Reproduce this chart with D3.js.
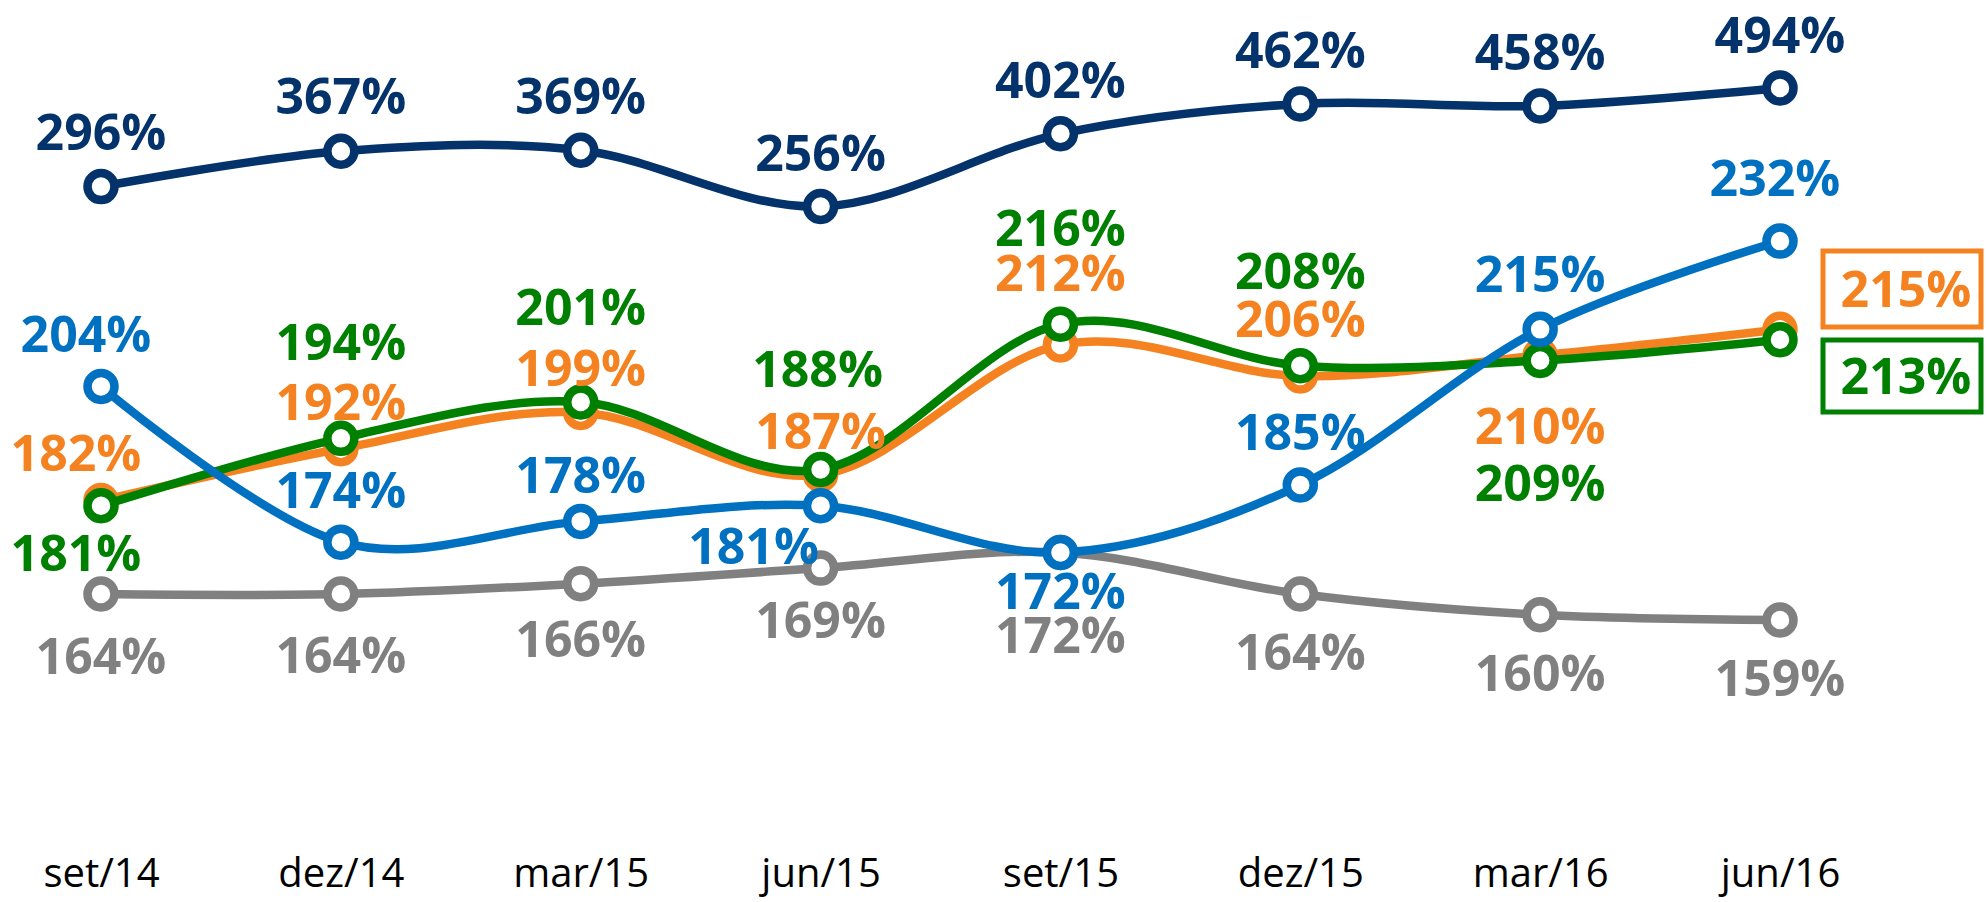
<!DOCTYPE html>
<html><head><meta charset="utf-8">
<script src="https://cdn.jsdelivr.net/npm/d3@7/dist/d3.min.js"></script>
<style>
html,body{margin:0;padding:0;background:#fff;}
svg{display:block;}
text{font-family:"Open Sans","Noto Sans",sans-serif;}
</style></head>
<body>
<svg id="chart" width="1987" height="902"></svg>
<script>
const categories = ["set/14","dez/14","mar/15","jun/15","set/15","dez/15","mar/16","jun/16"];
const navyValues   = [296,367,369,256,402,462,458,494];
const blueValues   = [204,174,178,181,172,185,215,232];
const orangeValues = [182,192,199,187,212,206,210,215];
const greenValues  = [181,194,201,188,216,208,209,213];
const grayValues   = [164,164,166,169,172,164,160,159];

// label placement (offsets from the marker, px) – layout only
const navyLabelOffsets   = [[0,-55],[0,-55],[0,-54],[0,-54],[0,-54],[0,-54],[0,-54],[0,-53]];
const blueLabelOffsets   = [[-15,-52],[0,-52],[0,-46],[-67,40],[0,38],[0,-53],[0,-55],[-5,-63]];
const orangeLabelOffsets = [[-25,-48],[0,-47],[0,-44],[0,-44],[0,-72],[0,-57],[0,71],null];
const greenLabelOffsets  = [[-25,47],[0,-96],[0,-95],[-3,-100],[0,-96],[0,-95],[0,123],null];
const grayLabelOffsets   = [[0,62],[0,61],[0,55],[0,52],[0,82],[0,58],[0,58],[0,58]];

const svg = d3.select("#chart");

const x = d3.scalePoint().domain(categories).range([101, 1780]);
// main axis (most series)
const y = d3.scaleLinear().domain([140, 250]).range([718.6, 147.7]);
// separate scale for the top series
const yTop = d3.scaleLinear().domain([200, 550]).range([234.4, 60.1]);

const series = [
  {name:"gray",   values:grayValues,   color:"#808080", scale:y,    offsets:grayLabelOffsets},
  {name:"orange", values:orangeValues, color:"#F58220", scale:y,    offsets:orangeLabelOffsets},
  {name:"green",  values:greenValues,  color:"#008000", scale:y,    offsets:greenLabelOffsets},
  {name:"blue",   values:blueValues,   color:"#0070C0", scale:y,    offsets:blueLabelOffsets},
  {name:"navy",   values:navyValues,   color:"#04336B", scale:yTop, offsets:navyLabelOffsets}
];

// x axis labels
const xAxis = d3.axisBottom(x).tickSize(0).tickPadding(0);
const gx = svg.append("g").attr("transform","translate(0,887)").call(xAxis);
gx.select(".domain").remove();
gx.selectAll("text")
  .attr("dy",0).attr("y",0)
  .attr("font-family","'Open Sans','Noto Sans',sans-serif")
  .attr("font-size",40).attr("fill","#000");

const line = d3.line().curve(d3.curveCardinal.tension(0));

series.forEach(s => {
  const pts = s.values.map((v,i)=>[x(categories[i]), s.scale(v)]);
  const g = svg.append("g").attr("class","series-"+s.name);
  g.append("path").attr("d", line(pts))
    .attr("fill","none").attr("stroke", s.color).attr("stroke-width",8.5)
    .attr("stroke-linecap","round");
  g.selectAll("circle").data(pts).join("circle")
    .attr("cx",d=>d[0]).attr("cy",d=>d[1]).attr("r",13.5)
    .attr("fill","#fff").attr("stroke",s.color).attr("stroke-width",8.5);
});

// data labels on top
series.forEach(s => {
  const g = svg.append("g").attr("class","labels-"+s.name);
  s.values.forEach((v,i)=>{
    const off = s.offsets[i];
    if(!off) return;
    g.append("text")
      .attr("x", x(categories[i]) + off[0])
      .attr("y", s.scale(v) + off[1])
      .attr("dy","0.36em")
      .attr("text-anchor","middle")
      .attr("font-weight",700).attr("font-size",50)
      .attr("fill", s.color)
      .text(v + "%");
  });
});

// boxed end labels
const boxes = [
  {values:orangeValues, color:"#F58220", top:251, h:76},
  {values:greenValues,  color:"#008000", top:340, h:72}
];
boxes.forEach(b=>{
  const g = svg.append("g");
  g.append("rect").attr("x",1823).attr("y",b.top).attr("width",158).attr("height",b.h)
    .attr("fill","#fff").attr("stroke",b.color).attr("stroke-width",5);
  g.append("text").attr("x",1906).attr("y",b.top + b.h/2).attr("dy","0.36em")
    .attr("text-anchor","middle").attr("font-weight",700).attr("font-size",50)
    .attr("fill",b.color).text(b.values[b.values.length-1] + "%");
});
</script>
</body></html>
